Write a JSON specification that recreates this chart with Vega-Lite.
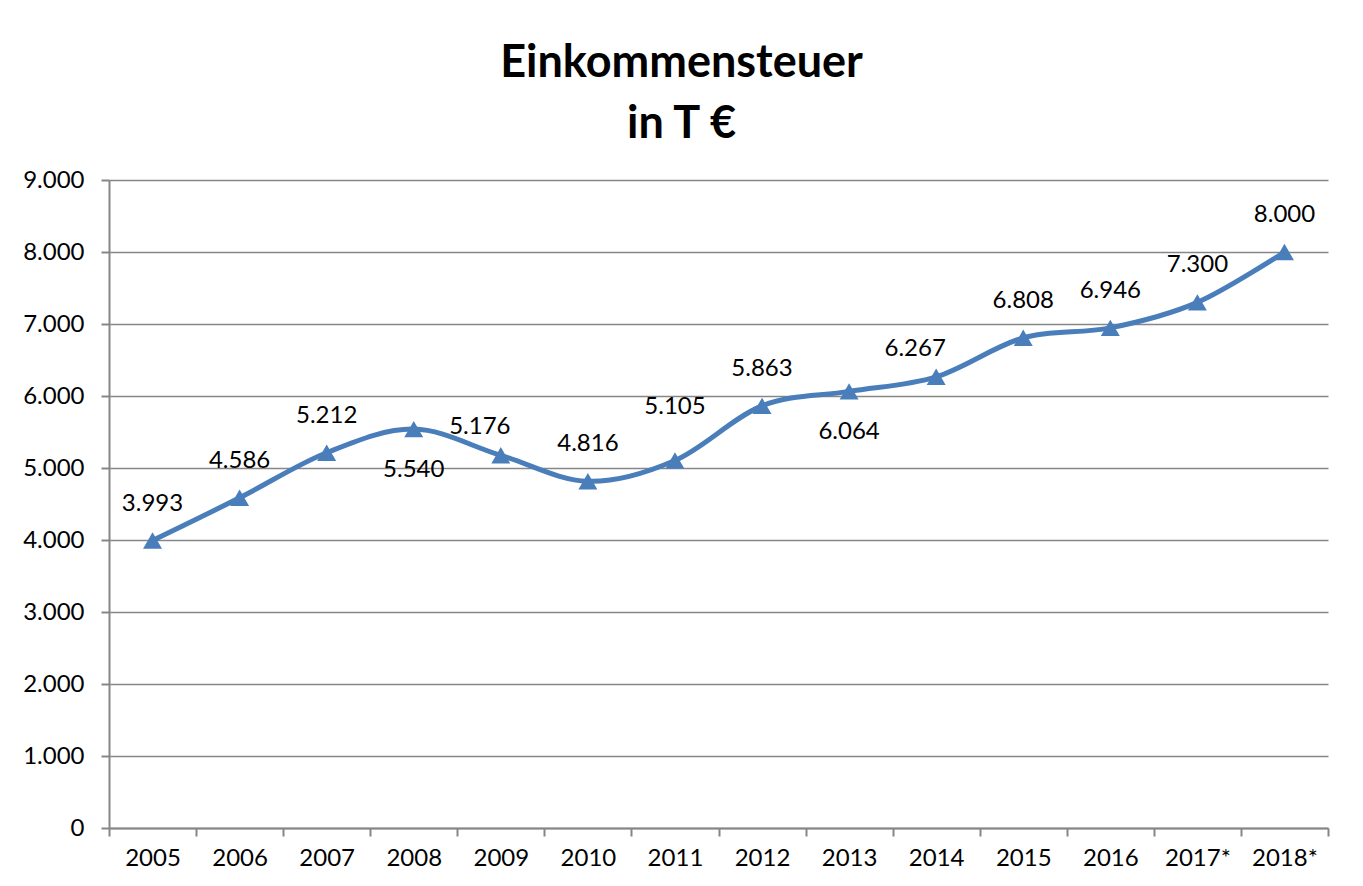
{
  "$schema": "https://vega.github.io/schema/vega-lite/v6.json",
  "width": 1219,
  "height": 648,
  "autosize": {"type": "none"},
  "padding": {"left": 109, "top": 180, "right": 35, "bottom": 58},
  "background": "white",
  "config": {
    "locale": {"number": {"decimal": ",", "thousands": ".", "grouping": [3], "currency": ["", " €"]}},
    "font": "Lato",
    "view": {"stroke": null}
  },
  "title": {
    "text": ["Einkommensteuer", "in T €"],
    "font": "Lato",
    "fontSize": 45,
    "fontWeight": "bold",
    "lineHeight": 61,
    "color": "black",
    "anchor": "middle",
    "dx": -37,
    "offset": 21
  },
  "data": {
    "values": [
      {"jahr": "2005", "wert": 3993, "lage": "oben"},
      {"jahr": "2006", "wert": 4586, "lage": "oben"},
      {"jahr": "2007", "wert": 5212, "lage": "oben"},
      {"jahr": "2008", "wert": 5540, "lage": "unten"},
      {"jahr": "2009", "wert": 5176, "lage": "links"},
      {"jahr": "2010", "wert": 4816, "lage": "oben"},
      {"jahr": "2011", "wert": 5105, "lage": "hoch"},
      {"jahr": "2012", "wert": 5863, "lage": "oben"},
      {"jahr": "2013", "wert": 6064, "lage": "unten"},
      {"jahr": "2014", "wert": 6267, "lage": "links"},
      {"jahr": "2015", "wert": 6808, "lage": "oben"},
      {"jahr": "2016", "wert": 6946, "lage": "oben"},
      {"jahr": "2017*", "wert": 7300, "lage": "oben"},
      {"jahr": "2018*", "wert": 8000, "lage": "oben"}
    ]
  },
  "encoding": {
    "x": {
      "field": "jahr",
      "type": "nominal",
      "sort": null,
      "scale": {"paddingInner": 0, "paddingOuter": 0},
      "axis": {
        "title": null,
        "labelAngle": 0,
        "labelFont": "Lato",
        "labelFontSize": 24,
        "labelColor": "black",
        "labelPadding": 10,
        "tickSize": 8,
        "tickWidth": 2,
        "tickColor": "#868686",
        "tickBand": "extent",
        "domainColor": "#868686",
        "domainWidth": 2,
        "grid": false
      }
    },
    "y": {
      "field": "wert",
      "type": "quantitative",
      "scale": {"domain": [0, 9000], "nice": false},
      "axis": {
        "title": null,
        "values": [0, 1000, 2000, 3000, 4000, 5000, 6000, 7000, 8000, 9000],
        "format": ",d",
        "labelFont": "Lato",
        "labelFontSize": 24,
        "labelColor": "black",
        "labelPadding": 17,
        "tickSize": 8,
        "tickWidth": 2,
        "tickColor": "#868686",
        "domainColor": "#868686",
        "domainWidth": 2,
        "grid": true,
        "gridColor": "#868686",
        "gridWidth": 1.5
      }
    }
  },
  "layer": [
    {
      "mark": {"type": "line", "interpolate": "cardinal", "color": "#4A7EBB", "strokeWidth": 5}
    },
    {
      "mark": {"type": "point", "shape": "triangle-up", "filled": true, "color": "#4A7EBB", "opacity": 1, "size": 360}
    },
    {
      "transform": [{"filter": "datum.lage == 'oben'"}],
      "mark": {"type": "text", "font": "Lato", "fontSize": 24, "color": "black", "dy": -37},
      "encoding": {"text": {"field": "wert", "type": "quantitative", "format": ",d"}}
    },
    {
      "transform": [{"filter": "datum.lage == 'unten'"}],
      "mark": {"type": "text", "font": "Lato", "fontSize": 24, "color": "black", "dy": 41},
      "encoding": {"text": {"field": "wert", "type": "quantitative", "format": ",d"}}
    },
    {
      "transform": [{"filter": "datum.lage == 'hoch'"}],
      "mark": {"type": "text", "font": "Lato", "fontSize": 24, "color": "black", "dy": -53},
      "encoding": {"text": {"field": "wert", "type": "quantitative", "format": ",d"}}
    },
    {
      "transform": [{"filter": "datum.lage == 'links'"}],
      "mark": {"type": "text", "font": "Lato", "fontSize": 24, "color": "black", "dy": -28, "dx": -21},
      "encoding": {"text": {"field": "wert", "type": "quantitative", "format": ",d"}}
    }
  ]
}
